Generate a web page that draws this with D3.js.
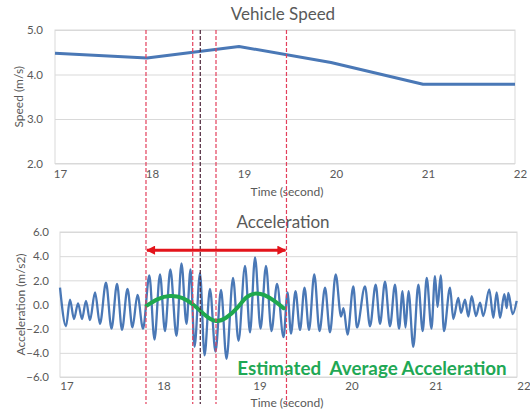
<!DOCTYPE html>
<html><head><meta charset="utf-8">
<script src="https://cdn.jsdelivr.net/npm/d3@7"></script>
<style>
html,body{margin:0;padding:0;background:#fff;}
svg{display:block;font-family:Lato,"Open Sans",sans-serif;}
</style></head>
<body><svg id="c" width="530" height="417"></svg>
<script>
// ---------- data ----------
const timeTicks = [17, 18, 19, 20, 21, 22];
const speedTime = [17, 18, 19, 20, 21, 22];
const speedValues = [4.48, 4.37, 4.63, 4.27, 3.78, 3.78];
const speedYTicks = [2, 3, 4, 5];
const accelYTicks = [-6, -4, -2, 0, 2, 4, 6];
const accelTime = [17.000,17.062,17.103,17.144,17.186,17.227,17.268,17.309,17.361,17.412,17.474,17.531,17.588,17.639,17.696,17.747,17.799,17.856,17.921,17.974,
  18.031,18.083,18.139,18.203,18.255,18.307,18.349,18.391,18.448,18.495,18.552,18.609,18.667,18.724,18.792,18.849,18.917,18.969,
  19.022,19.082,19.141,19.201,19.261,19.332,19.375,19.413,19.462,19.511,19.560,19.609,19.666,19.723,19.783,19.837,19.899,19.957,19.984,
  20.030,20.099,20.143,20.238,20.298,20.365,20.417,20.476,20.536,20.595,20.643,20.685,20.720,20.756,20.813,20.873,20.925,20.973,
  21.028,21.068,21.097,21.133,21.170,21.239,21.276,21.333,21.364,21.409,21.447,21.485,21.534,21.580,21.617,21.685,21.731,21.769,21.807,21.856,21.883,21.901,21.951,21.996];
const accelValues = [1.4,-1.8,0.4,-1.2,0.1,-1.2,0.3,-1.3,1.0,-1.6,1.8,-2.0,1.7,-2.1,1.3,-1.9,0.8,-2.0,2.4,-2.9,
  2.5,-2.2,2.9,-2.6,3.4,-1.6,2.9,-3.5,2.6,-4.2,1.3,-3.9,1.2,-4.5,2.2,-3.0,3.2,-2.3,
  3.9,-2.0,3.2,-2.2,1.7,-2.7,1.0,-2.4,1.1,-2.1,1.4,-2.1,2.5,-2.2,1.4,-2.3,2.5,-1.0,-0.3,
  -2.5,1.5,-1.9,1.5,-1.8,1.65,-1.6,1.9,-1.8,1.65,-2.0,1.1,-1.9,1.1,-3.5,1.65,-2.2,2.2,
  -2.0,2.35,-0.2,2.4,-2.2,1.4,-1.2,0.55,-0.7,0.4,-1.0,0.7,-0.95,0.15,-0.95,1.25,-1.1,1.0,-1.1,0.85,-0.3,0.95,-0.8,0.3];
const avgTime = [17.894,18.010,18.135,18.260,18.375,18.490,18.604,18.719,18.833,18.927,19.022,19.130,19.239,19.332];
const avgValues = [-0.1,0.45,0.7,0.55,0.0,-0.8,-1.35,-1.1,-0.3,0.55,0.9,0.75,0.25,-0.3];
const markerTimes = [17.989, 18.497, 18.579, 18.750, 19.516];
const markerDark = [false, false, true, false, false];
const arrowLevel = 4.5;
const topTitle = "Vehicle Speed", botTitle = "Acceleration";
const speedLabel = "Speed (m/s)", accelLabel = "Acceleration (m/s2)";
const timeLabel = "Time (second)", noteText = "Estimated  Average Acceleration";

// ---------- layout ----------
const svg = d3.select("#c");
const grey = "#595959", gridC = "#d9d9d9";
const fmt = d3.format(".1f");

// top chart scales
const xT = d3.scaleLinear().domain([17, 22]).range([55, 515]);
const yT = d3.scaleLinear().domain([2, 5]).range([163.5, 30]);
// bottom chart scales
const xB = d3.scaleLinear().domain(timeTicks).range([60, 157, 253, 345, 429, 517]);
const yB = d3.scaleLinear().domain([-6, 6]).range([377, 232]);

function panel(x, y, yTicks, title, ylab, titleY, ylabX, tickLabelY, xlabY, labOff, yPad) {
  const g = svg.append("g");
  const r = x.range();
  const x0 = r[0], x1 = r[r.length - 1];
  // gridlines + y labels
  g.append("g").attr("transform", `translate(${x0},0)`)
    .call(d3.axisLeft(y).tickValues(yTicks).tickSize(-(x1 - x0)).tickFormat(fmt).tickPadding(yPad))
    .call(a => a.select(".domain").remove())
    .call(a => a.selectAll("line").attr("stroke", d => d === 0 && yTicks.length > 4 ? "#c9cbd6" : gridC))
    .call(a => a.selectAll("text").attr("fill", grey).attr("font-size", 11.5).attr("font-family", "Lato"));
  // border
  g.append("rect").attr("x", x0).attr("y", y.range()[1]).attr("width", x1 - x0)
    .attr("height", y.range()[0] - y.range()[1]).attr("fill", "none").attr("stroke", gridC);
  // x tick labels
  g.append("g").attr("transform", `translate(${labOff},${tickLabelY})`)
    .call(d3.axisBottom(x).tickValues(timeTicks).tickSize(0).tickFormat(d3.format("d")))
    .call(a => a.select(".domain").remove())
    .call(a => a.selectAll("text").attr("fill", grey).attr("font-size", 11.5).attr("font-family", "Lato"));
  g.append("text").attr("x", 283).attr("y", titleY).attr("text-anchor", "middle")
    .attr("fill", grey).attr("font-size", 17).text(title);
  g.append("text").attr("transform", `translate(${ylabX},${(y.range()[0] + y.range()[1]) / 2}) rotate(-90)`)
    .attr("text-anchor", "middle").attr("fill", grey).attr("font-size", 12).text(ylab);
  g.append("text").attr("x", 287).attr("y", xlabY).attr("text-anchor", "middle")
    .attr("fill", grey).attr("font-size", 12).text(timeLabel);
  return g;
}

panel(xT, yT, speedYTicks, topTitle, speedLabel, 20, 23, 167, 196, 5, 12);
panel(xB, yB, accelYTicks, botTitle, accelLabel, 228, 25, 378.5, 407, 6.5, 11);

// speed line
svg.append("path").datum(speedTime.map((t, i) => [t, speedValues[i]]))
  .attr("fill", "none").attr("stroke", "#4a78b6").attr("stroke-width", 3).attr("stroke-linejoin", "round")
  .attr("d", d3.line().x(d => xT(d[0])).y(d => yT(d[1])));

// acceleration signal
svg.append("path").datum(accelTime.map((t, i) => [t, accelValues[i]]))
  .attr("fill", "none").attr("stroke", "#4a78b6").attr("stroke-width", 2.3).attr("stroke-linejoin", "round")
  .attr("d", d3.line().curve(d3.curveMonotoneX).x(d => xB(d[0])).y(d => yB(d[1])));

// estimated average (green)
svg.append("path").datum(avgTime.map((t, i) => [t, avgValues[i]]))
  .attr("fill", "none").attr("stroke", "#1fa84e").attr("stroke-width", 4).attr("stroke-linecap", "round")
  .attr("d", d3.line().curve(d3.curveNatural).x(d => xB(d[0])).y(d => yB(d[1])));

// dashed markers
svg.append("g").selectAll("line").data(markerTimes).join("line")
  .attr("x1", d => xT(d)).attr("x2", d => xT(d))
  .attr("y1", yT(5)).attr("y2", 404)
  .attr("stroke", (d, i) => markerDark[i] ? "#4b2236" : "#e3405c")
  .attr("stroke-width", 1.2).attr("stroke-dasharray", "4,2");

// red double arrow
const defs = svg.append("defs");
["s", "e"].forEach(k => {
  defs.append("marker").attr("id", "ah" + k).attr("viewBox", "0 0 10 10")
    .attr("refX", 9).attr("refY", 5).attr("markerWidth", 3.4).attr("markerHeight", 3)
    .attr("orient", "auto-start-reverse").attr("markerUnits", "strokeWidth")
    .append("path").attr("d", "M0,0 L10,5 L0,10 z").attr("fill", "#e3141b");
});
svg.append("line")
  .attr("x1", xT(markerTimes[0]) + 1).attr("x2", xT(markerTimes[markerTimes.length - 1]) - 1)
  .attr("y1", yB(arrowLevel)).attr("y2", yB(arrowLevel))
  .attr("stroke", "#e3141b").attr("stroke-width", 3)
  .attr("marker-start", "url(#ahs)").attr("marker-end", "url(#ahe)");

// note
svg.append("text").attr("x", 372).attr("y", 374.5).attr("text-anchor", "middle")
  .attr("fill", "#1fa855").attr("font-weight", "bold").attr("font-size", 18.8)
  .style("white-space", "pre").text(noteText);
</script></body></html>
